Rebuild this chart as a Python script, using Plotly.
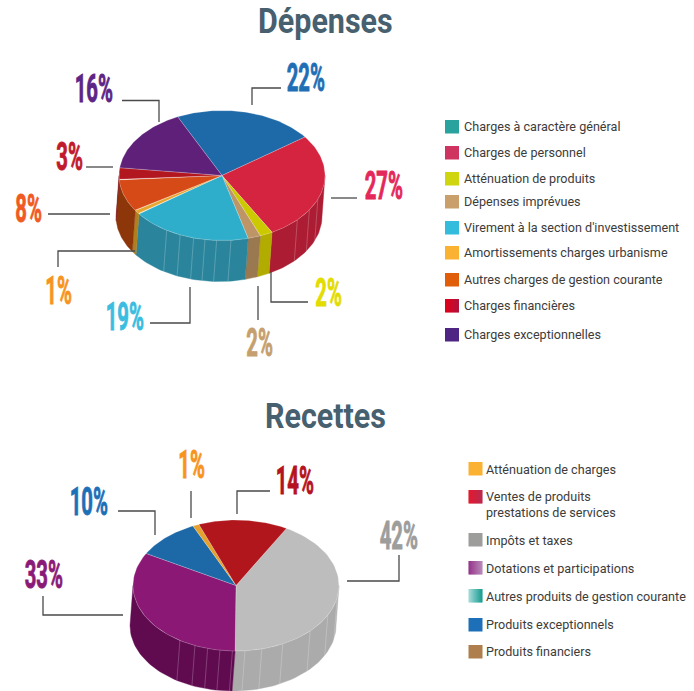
import numpy as np
import plotly.graph_objects as go

# ---------- data ----------
dep_labels = ["Charges à caractère général", "Charges de personnel", "Atténuation de produits",
              "Dépenses imprévues", "Virement à la section d'investissement",
              "Amortissements charges urbanisme", "Autres charges de gestion courante",
              "Charges financières", "Charges exceptionnelles"]
# slice order, clockwise from the blue slice
dep_slices = ["Bleu", "Personnel", "Atténuation", "Imprévues", "Virement", "Amortissements", "Autres", "Financières", "Exceptionnelles"]
dep_values = [22, 27, 2, 2, 19, 1, 8, 3, 16]

rec_labels = ["Atténuation de charges", "Ventes de produits<br>prestations de services", "Impôts et taxes",
              "Dotations et participations", "Autres produits de gestion courante",
              "Produits exceptionnels", "Produits financiers"]
rec_slices = ["Impôts", "Dotations", "Exceptionnels", "Atténuation", "Ventes"]
rec_values = [42, 33, 10, 1, 14]

# ---------- styles ----------
dep_top = ["#1e69a8", "#d4243f", "#cdc900", "#bd9566", "#2faecb", "#e8a52e", "#d64a17", "#b2161f", "#5f2079"]
dep_side = ["#174f80", "#ac1c33", "#b3ac00", "#9a7850", "#2a859c", "#b07f1e", "#8d3609", "#7e0f14", "#46175a"]
rec_top = ["#bdbdbd", "#8b1874", "#1d68a7", "#e5a12d", "#b0161c"]
rec_side = ["#ababab", "#600a50", "#164f80", "#b07f1e", "#800f14"]
dep_ribs = [-122.5, -114, -106, -99.5, -93, -85, -43, -32, -21.5]
rec_ribs = [-123, -113.5, -106, -99, -92, -85, -75.5, -63, -44, -27, -11]

dep_geo = dict(cx=222, cy=175.5, rx=103, ry=65, h=41, shift=-3, start=115.5)
rec_geo = dict(cx=236, cy=585.5, rx=103, ry=65.5, h=40, shift=-3, start=60.7)

dep_swatches = [(120, ["#2aa39f"]), (146, ["#cf3461"]), (172, ["#cfd60f"]), (195, ["#c9a06c"]),
                (221, ["#33bcdc"]), (246, ["#fbb132"]), (273, ["#e05e0a"]),
                (299, ["#e2001a", "#b0123b"]), (328, ["#4f2583"])]
dep_text_y = [126.5, 152.5, 178, 201, 227, 252, 279, 305, 334]
rec_swatches = [(462, ["#fbb132"]), (490, ["#e2001a", "#b0123b"]), (533, ["#9d9d9c"]),
                (561, ["#8a1f7f", "#b07cb0"]), (589, ["#9bd7d3", "#009286"]),
                (618, ["#1d70b7"]), (645, ["#ae7f4d"])]
rec_text_y = [469, 504.5, 540, 568, 596, 624, 651]

pct_labels = [("22%", 306, 78, "#1f6fb5"), ("27%", 384, 186, "#e4285a"), ("2%", 328, 293, "#e3dc00"),
              ("2%", 259, 343, "#c69f6e"), ("19%", 125, 317, "#3abde0"), ("1%", 58, 291, "#f7941d"),
              ("8%", 28, 209, "#f15a22"), ("3%", 69, 157, "#c01a2c"), ("16%", 94, 89, "#5d2585"),
              ("42%", 399, 536, "#9d9d9c"), ("14%", 295, 481, "#b5131f"), ("1%", 191, 465, "#f7941d"),
              ("10%", 89, 502, "#1d6fb7"), ("33%", 44, 575, "#8b1a77")]

leaders = ["M252,105V88H281", "M122,100.5H159V122", "M86,167H113", "M48,214H110", "M58,267V251H135",
           "M150,323H190V287", "M258,286V320", "M271,272V302H308", "M331,198H357",
           "M347,581H399V555", "M237,514V491H270", "M191,518V491", "M118,511H155V535", "M43,596V615H123"]

HEAD_FONT = "Roboto"
TEXT_FONT = "Roboto"
INK = "#3c3c3b"
PCT_SIZE = 39
TITLE_SIZE = 35

fig = go.Figure()


def rim(g, deg, low=False):
    a = np.radians(deg)
    x = g["cx"] + g["rx"] * np.cos(a) + (g["shift"] if low else 0)
    y = g["cy"] - g["ry"] * np.sin(a) + (g["h"] if low else 0)
    return x, y


def poly(x, y, fill, line="rgba(255,255,255,0.35)", width=0.6):
    fig.add_trace(go.Scatter(x=x, y=y, mode="lines", fill="toself", fillcolor=fill,
                             line=dict(color=line, width=width), hoverinfo="skip", showlegend=False))


def pie3d(values, top, side, ribs, g):
    spans = np.array(values) * 3.6
    ends = g["start"] - np.cumsum(spans)
    starts = ends + spans
    for s, e, c in zip(starts, ends, side):
        for shift in (0, -360):
            a0, a1 = min(s + shift, 0), max(e + shift, -180)
            if a0 <= a1:
                continue
            t = np.linspace(a0, a1, 40)
            xt, yt = rim(g, t)
            xb, yb = rim(g, t[::-1], low=True)
            poly(np.r_[xt, xb, xt[0]], np.r_[yt, yb, yt[0]], c, line=c, width=0.4)
    for r in ribs:
        xt, yt = rim(g, r)
        xb, yb = rim(g, r, low=True)
        fig.add_trace(go.Scatter(x=[xt, xb], y=[yt, yb], mode="lines",
                                 line=dict(color="rgba(255,255,255,0.22)", width=1),
                                 hoverinfo="skip", showlegend=False))
    for s, e, c in zip(starts, ends, top):
        t = np.linspace(s, e, 60)
        xt, yt = rim(g, t)
        poly(np.r_[g["cx"], xt, g["cx"]], np.r_[g["cy"], yt, g["cy"]], c)


pie3d(dep_values, dep_top, dep_side, dep_ribs, dep_geo)
pie3d(rec_values, rec_top, rec_side, rec_ribs, rec_geo)

shapes, ann = [], []
for p in leaders:
    shapes.append(dict(type="path", path=p, line=dict(color="#4a4a4a", width=1.3), xref="x", yref="y"))


def hex_rgb(c):
    return np.array([int(c[i:i + 2], 16) for i in (1, 3, 5)])


def swatches(items, x0, w=14, h=13.5):
    for y, cols in items:
        n = 14 if len(cols) > 1 else 1
        step = w / n
        for i in range(n):
            if n == 1:
                c = cols[0]
            else:
                m = hex_rgb(cols[0]) + (hex_rgb(cols[1]) - hex_rgb(cols[0])) * i / (n - 1)
                c = "rgb(%d,%d,%d)" % tuple(m)
            shapes.append(dict(type="rect", x0=x0 + i * step, x1=x0 + (i + 1) * step + (0.3 if i < n - 1 else 0),
                               y0=y, y1=y + h, fillcolor=c, line=dict(width=0), xref="x", yref="y"))


swatches(dep_swatches, 445)
swatches(rec_swatches, 468.5)


def text(x, y, s, size, color, family, anchor="center", bold=False):
    ann.append(dict(x=x, y=y, text=f"<b>{s}</b>" if bold else s, showarrow=False, xref="x", yref="y",
                    xanchor=anchor, yanchor="middle", align="left",
                    font=dict(size=size, color=color, family=family)))


text(325, 21, "Dépenses", TITLE_SIZE, "#47606f", HEAD_FONT, bold=True)
text(325, 416, "Recettes", TITLE_SIZE, "#47606f", HEAD_FONT, bold=True)
for s, x, y, c in pct_labels:
    text(x, y, s, PCT_SIZE, c, HEAD_FONT, bold=True)
for s, y in zip(dep_labels, dep_text_y):
    text(461.5, y, s, 12.6, INK, TEXT_FONT, anchor="left")
for s, y in zip(rec_labels, rec_text_y):
    text(484, y, s, 12.6, INK, TEXT_FONT, anchor="left")

fig.update_layout(width=694, height=691, margin=dict(l=0, r=0, t=0, b=0), paper_bgcolor="white",
                  plot_bgcolor="white", showlegend=False, shapes=shapes, annotations=ann,
                  xaxis=dict(range=[0, 694], visible=False, fixedrange=True),
                  yaxis=dict(range=[691, 0], visible=False, fixedrange=True))

# fill the window exactly, and horizontally condense the display type,
# which no installed font does by itself
condense = """
document.body.style.margin = '0';
document.documentElement.style.overflow = 'hidden';
document.querySelectorAll('.annotation-text').forEach(function (t) {
  var size = parseFloat(t.style.fontSize);
  var k = size === %d ? 0.52 : (size === %d ? 0.87 : 0);
  if (k) { t.style.transformBox = 'fill-box'; t.style.transformOrigin = 'center';
           t.style.transform = 'scaleX(' + k + ')'; }
  if (size === %d) { t.style.stroke = t.style.fill; t.style.strokeWidth = '0.9px'; }
});
""" % (PCT_SIZE, TITLE_SIZE, PCT_SIZE)
fig.write_html("out.html", config=dict(displayModeBar=False), post_script=condense)
